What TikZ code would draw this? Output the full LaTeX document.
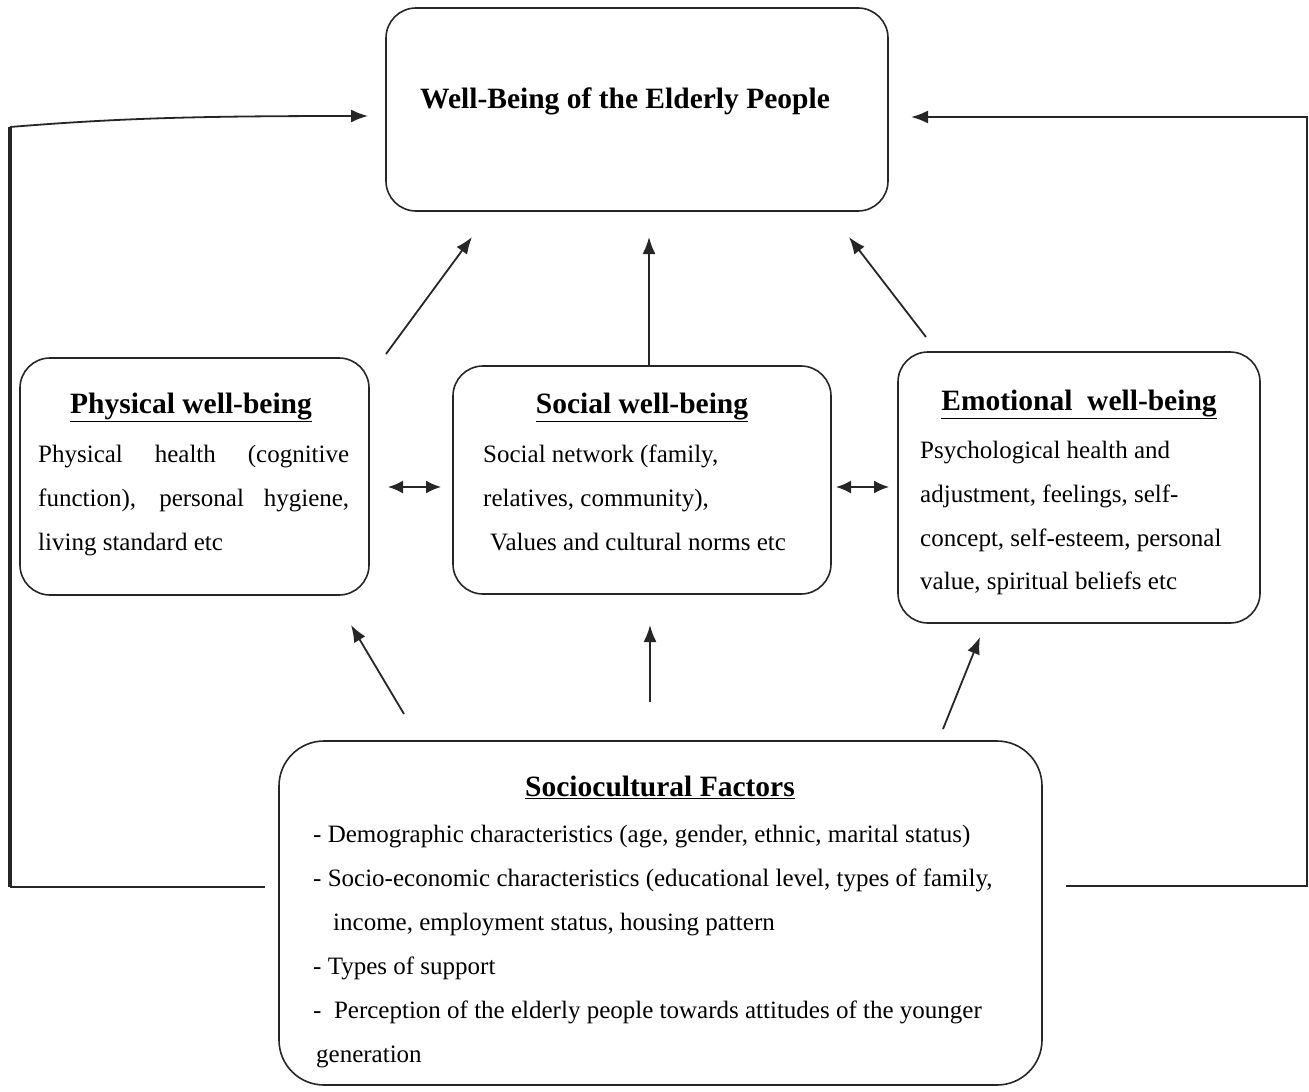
\documentclass[tikz,border=0pt]{standalone}
\usepackage{fontspec}
\setmainfont{Liberation Serif}
\usetikzlibrary{arrows.meta}
\begin{document}
\begin{tikzpicture}[x=1pt,y=-1pt,
  box/.style={draw=black!85,line width=1.6pt,rounded corners=30pt,inner sep=0pt},
  arr/.style={draw=black!85,line width=1.8pt,-{Latex[length=17pt,width=13pt]}},
  darr/.style={draw=black!85,line width=1.8pt,{Latex[length=15pt,width=13pt]}-{Latex[length=15pt,width=13pt]}},
  loopline/.style={draw=black!85,line width=1.8pt},
  head/.style={font=\fontsize{29.5}{34}\selectfont\bfseries,anchor=base,inner sep=0pt},
  body/.style={font=\fontsize{25}{29}\selectfont,anchor=base west,inner sep=0pt}]
\useasboundingbox (0,0) rectangle (1309,1092);
% boxes
\node[box,minimum width=502pt,minimum height=203pt] (top) at (637,109.5) {};
\node[box,minimum width=349pt,minimum height=237pt] (phys) at (194.5,476.5) {};
\node[box,minimum width=378pt,minimum height=228pt] (soc) at (642,480) {};
\node[box,minimum width=362pt,minimum height=271pt] (emo) at (1079,487.5) {};
\node[box,rounded corners=45pt,minimum width=763pt,minimum height=344pt] (sc) at (660.5,913) {};
% texts
\node[head] (ttop) at (625,108) {Well-Being of the Elderly People};
\node[head] (tphys) at (191,413) {\underline{Physical well-being}};
\node[body] (p1) at (38,462) {\makebox[311pt][s]{Physical health (cognitive}};
\node[body] (p2) at (38,506) {\makebox[311pt][s]{function), personal hygiene,}};
\node[body] (p3) at (38,550) {living standard etc};
\node[head] (tsoc) at (642,413) {\underline{Social well-being}};
\node[body] (s1) at (483,462) {Social network (family,};
\node[body] (s2) at (483,506) {relatives, community),};
\node[body] (s3) at (490,550) {Values and cultural norms etc};
\node[head] (temo) at (1079,410) {\underline{Emotional\ \ well-being}};
\node[body] (e1) at (920,458) {Psychological health and};
\node[body] (e2) at (920,502) {adjustment, feelings, self-};
\node[body] (e3) at (920,546) {concept, self-esteem, personal};
\node[body] (e4) at (920,589) {value, spiritual beliefs etc};
\node[head] (tsc) at (660,796) {\underline{Sociocultural Factors}};
\node[body] (c1) at (313,842) {- Demographic characteristics (age, gender, ethnic, marital status)};
\node[body] (c2) at (313,886) {- Socio-economic characteristics (educational level, types of family,};
\node[body] (c3) at (333,930) {income, employment status, housing pattern};
\node[body] (c4) at (313,974) {- Types of support};
\node[body] (c5) at (313,1018) {-\ \ Perception of the elderly people towards attitudes of the younger};
\node[body] (c6) at (316,1062) {generation};
% arrow coordinates
\coordinate (a1s) at (386,354); \coordinate (a1e) at (472,237);
\coordinate (a2s) at (649,365); \coordinate (a2e) at (649,237);
\coordinate (a3s) at (926,337); \coordinate (a3e) at (849,237);
\coordinate (d1s) at (388,487); \coordinate (d1e) at (441,487);
\coordinate (d2s) at (836,487); \coordinate (d2e) at (889,487);
\coordinate (b1s) at (404,714); \coordinate (b1e) at (351,625);
\coordinate (b2s) at (650,702); \coordinate (b2e) at (650,625);
\coordinate (b3s) at (943,729); \coordinate (b3e) at (980,637);
\draw[arr] (a1s) -- (a1e);
\draw[arr] (a2s) -- (a2e);
\draw[arr] (a3s) -- (a3e);
\draw[darr] (d1s) -- (d1e);
\draw[darr] (d2s) -- (d2e);
\draw[arr] (b1s) -- (b1e);
\draw[arr] (b2s) -- (b2e);
\draw[arr] (b3s) -- (b3e);
% feedback loops
\coordinate (lst) at (265,887); \coordinate (lc1) at (10,887);
\coordinate (lc2) at (10,127); \coordinate (lend) at (368,116);
\draw[loopline] (lst) -- (lc1);
\draw[draw=black!85,line width=3.2pt] (lc1) -- (lc2);
\draw[arr] (lc2) .. controls (120,118) and (200,116) .. (lend);
\coordinate (rst) at (1066,886); \coordinate (rc1) at (1307,886);
\coordinate (rc2) at (1307,117); \coordinate (rend) at (911,117);
\draw[arr] (rst) -- (rc1) -- (rc2) -- (rend);
\end{tikzpicture}
\end{document}
